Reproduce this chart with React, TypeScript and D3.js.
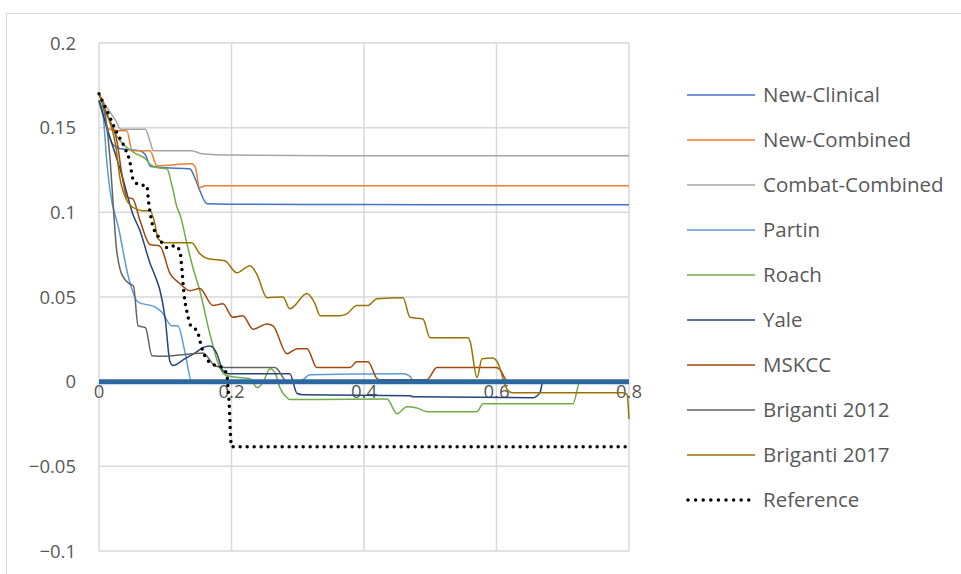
import React from 'react';
import * as d3 from 'd3';

type Pt = [number, number];

const xTicks = [0, 0.2, 0.4, 0.6, 0.8];
const xTickLabels = ['0', '0.2', '0.4', '0.6', '0.8'];
const yTicks = [0.2, 0.15, 0.1, 0.05, 0, -0.05, -0.1];
const yTickLabels = ['0.2', '0.15', '0.1', '0.05', '0', '\u22120.05', '\u22120.1'];

const seriesNames = ['New-Clinical', 'New-Combined', 'Combat-Combined', 'Partin', 'Roach', 'Yale', 'MSKCC', 'Briganti 2012', 'Briganti 2017'];
const seriesColors = ['#4472C4', '#ED7D31', '#A5A5A5', '#5B9BD5', '#70AD47', '#264478', '#9E480E', '#636363', '#997300'];

const newClinical: Pt[] = [[0, 0.166], [0.01, 0.152], [0.021, 0.14], [0.032, 0.1375], [0.062, 0.1364], [0.07, 0.134], [0.078, 0.127], [0.1, 0.1263], [0.137, 0.1257], [0.145, 0.12], [0.152, 0.113], [0.163, 0.1051], [0.2, 0.1048], [0.4, 0.1046], [0.6, 0.1045], [0.8, 0.1045]];
const newCombined: Pt[] = [[0, 0.17], [0.008, 0.16], [0.0136, 0.1494], [0.03, 0.1482], [0.042, 0.1482], [0.05, 0.1364], [0.077, 0.1364], [0.0875, 0.1275], [0.14, 0.1287], [0.145, 0.127], [0.152, 0.1145], [0.16, 0.1157], [0.3, 0.1157], [0.8, 0.1157]];
const combatCombined: Pt[] = [[0, 0.17], [0.01, 0.163], [0.024, 0.155], [0.033, 0.149], [0.07, 0.149], [0.077, 0.142], [0.082, 0.1364], [0.14, 0.1364], [0.155, 0.1346], [0.2, 0.1338], [0.4, 0.1334], [0.8, 0.1334]];
const partin: Pt[] = [[0, 0.166], [0.006, 0.158], [0.012, 0.129], [0.0166, 0.113], [0.03, 0.09], [0.044, 0.0625], [0.059, 0.047], [0.085, 0.044], [0.095, 0.041], [0.11, 0.033], [0.119, 0.033], [0.13, 0.017], [0.14, 0], [0.3, 0], [0.308, 0.0012], [0.318, 0.0041], [0.46, 0.0047], [0.47, 0.003], [0.474, 0], [0.8, 0]];
const roach: Pt[] = [[0, 0.165], [0.0136, 0.156], [0.024, 0.147], [0.054, 0.135], [0.069, 0.132], [0.08, 0.1275], [0.095, 0.126], [0.1026, 0.1257], [0.11, 0.116], [0.1177, 0.103], [0.122, 0.099], [0.133, 0.081], [0.142, 0.067], [0.152, 0.054], [0.1675, 0.028], [0.1826, 0.008], [0.193, 0.0035], [0.213, 0.0024], [0.228, 0.0018], [0.2385, -0.0035], [0.2475, -0.0006], [0.258, 0.0077], [0.2657, 0.0053], [0.273, -0.0035], [0.2838, -0.0095], [0.288, -0.0106], [0.33, -0.0106], [0.4347, -0.0103], [0.4498, -0.0189], [0.4649, -0.0148], [0.48, -0.0155], [0.495, -0.0177], [0.5706, -0.0177], [0.5796, -0.013], [0.7155, -0.013], [0.726, 0], [0.8, 0]];
const yale: Pt[] = [[0, 0.166], [0.012, 0.15], [0.036, 0.12], [0.051, 0.099], [0.062, 0.089], [0.077, 0.07], [0.0845, 0.0625], [0.092, 0.054], [0.1, 0.037], [0.107, 0.012], [0.1117, 0.0095], [0.13, 0.0136], [0.145, 0.017], [0.157, 0.0201], [0.1675, 0.021], [0.178, 0.0165], [0.187, 0.0065], [0.195, 0.0047], [0.288, 0.0047], [0.299, -0.007], [0.308, -0.0077], [0.47, -0.0083], [0.474, -0.0089], [0.655, -0.0095], [0.6657, -0.0065], [0.67, 0], [0.8, 0]];
const mskcc: Pt[] = [[0, 0.17], [0.012, 0.158], [0.027, 0.142], [0.036, 0.119], [0.042, 0.109], [0.051, 0.108], [0.062, 0.095], [0.077, 0.081], [0.092, 0.08], [0.107, 0.064], [0.122, 0.058], [0.137, 0.0537], [0.152, 0.055], [0.172, 0.045], [0.187, 0.046], [0.202, 0.038], [0.217, 0.039], [0.2325, 0.031], [0.2536, 0.034], [0.2626, 0.033], [0.2838, 0.0165], [0.299, 0.0195], [0.314, 0.0195], [0.329, 0.0083], [0.379, 0.0083], [0.389, 0.0118], [0.406, 0.0118], [0.4196, 0.0018], [0.424, 0.0012], [0.495, 0.0012], [0.51, 0.0083], [0.6, 0.0083], [0.6053, 0.007], [0.6174, 0], [0.8, 0]];
const briganti2012: Pt[] = [[0, 0.17], [0.009, 0.158], [0.017, 0.13], [0.021, 0.107], [0.026, 0.08], [0.032, 0.066], [0.038, 0.061], [0.045, 0.058], [0.052, 0.0565], [0.059, 0.033], [0.07, 0.032], [0.08, 0.0153], [0.1, 0.015], [0.14, 0.0165], [0.157, 0.017], [0.175, 0.0094], [0.19, 0.0083], [0.2657, 0.0083], [0.272, 0.006], [0.2777, 0.0024], [0.2838, 0], [0.8, 0]];
const briganti2017: Pt[] = [[0, 0.17], [0.012, 0.158], [0.025, 0.14], [0.0317, 0.12], [0.042, 0.107], [0.051, 0.103], [0.065, 0.101], [0.077, 0.101], [0.0845, 0.093], [0.089, 0.0844], [0.0996, 0.0821], [0.14, 0.0821], [0.152, 0.0756], [0.165, 0.0726], [0.19, 0.0714], [0.208, 0.0643], [0.228, 0.0685], [0.2385, 0.0632], [0.2536, 0.0496], [0.2777, 0.05], [0.288, 0.043], [0.314, 0.052], [0.326, 0.046], [0.3336, 0.039], [0.364, 0.039], [0.374, 0.04], [0.389, 0.045], [0.406, 0.045], [0.4196, 0.049], [0.4589, 0.0496], [0.4694, 0.038], [0.489, 0.037], [0.4996, 0.026], [0.557, 0.026], [0.56, 0.024], [0.5706, 0.0024], [0.5781, 0.0136], [0.594, 0.014], [0.6008, 0.012], [0.616, -0.0045], [0.6234, -0.0065], [0.791, -0.0065], [0.797, -0.0075], [0.8, -0.022]];
const reference: Pt[] = [[0, 0.17], [0.006, 0.165], [0.0166, 0.156], [0.027, 0.147], [0.039, 0.138], [0.047, 0.129], [0.051, 0.12], [0.06, 0.1163], [0.072, 0.1157], [0.075, 0.1057], [0.0815, 0.0915], [0.0875, 0.087], [0.095, 0.082], [0.104, 0.0791], [0.1147, 0.0803], [0.122, 0.0773], [0.125, 0.067], [0.128, 0.0531], [0.134, 0.039], [0.137, 0.0342], [0.142, 0.0319], [0.148, 0.0301], [0.155, 0.0201], [0.16, 0.015], [0.1675, 0.0112], [0.178, 0.0094], [0.187, 0.0083], [0.193, 0.0035], [0.196, -0.01], [0.2, -0.0384], [0.5, -0.0384], [0.8, -0.0384]];
const treatNone: Pt[] = [[0, 0], [0.8, 0]];

const seriesData = [newClinical, newCombined, combatCombined, partin, roach, yale, mskcc, briganti2012, briganti2017];

const FONT = "'Open Sans', sans-serif";
const TEXT = '#595959';
const GRID = '#D9D9D9';

export default function App() {
  const x = d3.scaleLinear().domain([0, 0.8]).range([99, 629]);
  const y = d3.scaleLinear().domain([-0.1, 0.2]).range([551, 43]);
  const line = d3.line<Pt>().x(d => x(d[0])).y(d => y(d[1])).curve(d3.curveMonotoneX);
  const straight = d3.line<Pt>().x(d => x(d[0])).y(d => y(d[1]));

  const legendX1 = 687, legendX2 = 755, legendTextX = 763, legendY0 = 95, legendStep = 45;

  return (
    <svg width={961} height={574} style={{ position: 'absolute', left: 0, top: 0, background: '#fff' }}>
      <rect x={0} y={0} width={961} height={574} fill="#fff" />
      <rect x={6.5} y={13.5} width={1200} height={1200} fill="none" stroke={GRID} strokeWidth={1} />
      {yTicks.map(t => (
        <line key={'gy' + t} x1={x(0)} x2={x(0.8)} y1={y(t)} y2={y(t)} stroke={GRID} strokeWidth={1.5} />
      ))}
      {xTicks.map(t => (
        <line key={'gx' + t} x1={x(t)} x2={x(t)} y1={y(0.2)} y2={y(-0.1)} stroke={GRID} strokeWidth={1.5} />
      ))}
      {yTicks.map((t, i) => (
        <text key={'ty' + t} x={76} y={y(t) + 6.5} textAnchor="end" fontFamily={FONT} fontSize={18.5} fill={TEXT}>{yTickLabels[i]}</text>
      ))}
      {xTicks.map((t, i) => (
        <text key={'tx' + t} x={x(t)} y={y(0) + 16} textAnchor="middle" fontFamily={FONT} fontSize={18.5} fill={TEXT}>{xTickLabels[i]}</text>
      ))}
      {seriesData.map((d, i) => (
        <path key={seriesNames[i]} d={line(d) || ''} fill="none" stroke={seriesColors[i]} strokeWidth={1.5} />
      ))}
      <path d={straight(treatNone) || ''} fill="none" stroke="#2C67A0" strokeWidth={5} />
      <path d={line(reference) || ''} fill="none" stroke="#000" strokeWidth={3.5} strokeDasharray="0 7" strokeLinecap="round" />
      {seriesNames.map((n, i) => (
        <g key={'lg' + n}>
          <line x1={legendX1} x2={legendX2} y1={legendY0 + i * legendStep} y2={legendY0 + i * legendStep} stroke={seriesColors[i]} strokeWidth={1.5} />
          <text x={legendTextX} y={legendY0 + i * legendStep + 7} fontFamily={FONT} fontSize={20.5} fill={TEXT}>{n}</text>
        </g>
      ))}
      <g>
        <line x1={legendX1 + 1} x2={legendX2} y1={legendY0 + 9 * legendStep} y2={legendY0 + 9 * legendStep} stroke="#000" strokeWidth={3.5} strokeDasharray="0 7.6" strokeLinecap="round" />
        <text x={legendTextX} y={legendY0 + 9 * legendStep + 7} fontFamily={FONT} fontSize={20.5} fill={TEXT}>Reference</text>
      </g>
    </svg>
  );
}
